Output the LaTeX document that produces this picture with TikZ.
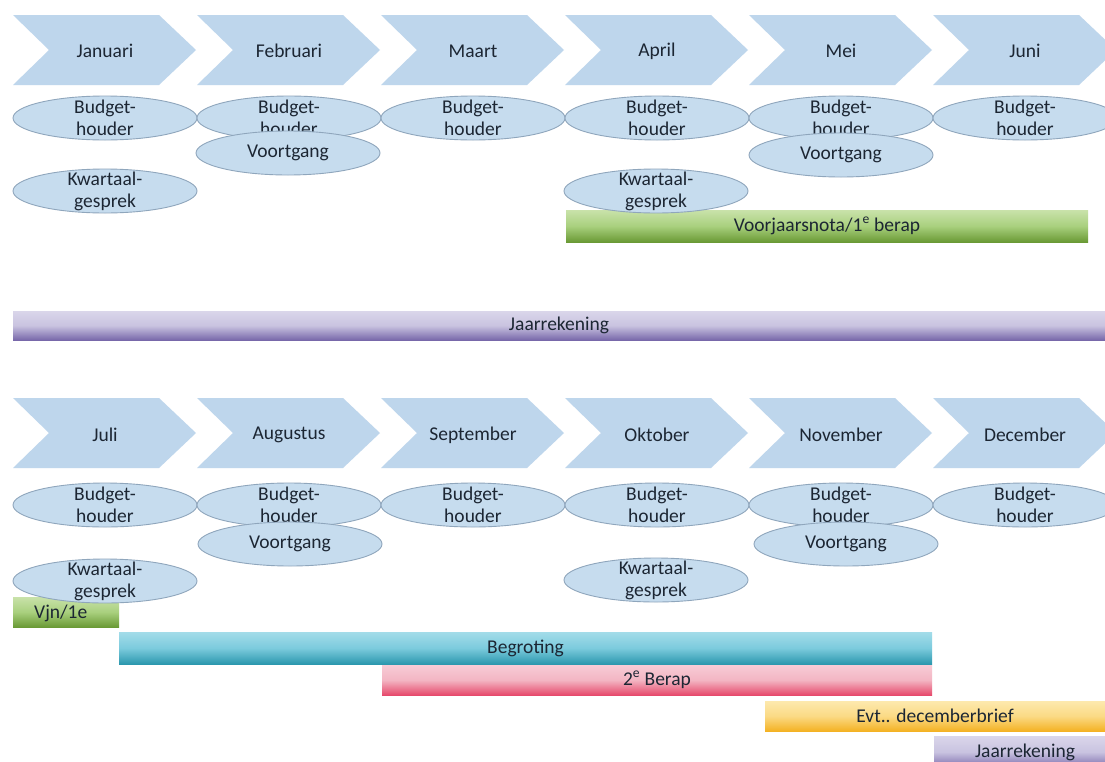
\documentclass[tikz,border=0pt]{standalone}
\usepackage{fontspec}
\setmainfont{Carlito}
\begin{document}
\begin{tikzpicture}[x=1pt,y=-1pt,
  chev/.style={fill=chevfill,draw=none},
  lbl/.style={font=\fontsize{19.5}{22}\selectfont,text=txtcol,inner sep=0pt,align=center},
  oval/.style={ellipse,fill=ovalfill,draw=ovaldraw,line width=0.9pt,minimum width=184pt,minimum height=44pt,inner sep=0pt},
  bar/.style={rectangle,draw=none,inner sep=0pt,font=\fontsize{19.5}{22}\selectfont,text=txtcol},
  green/.style={bar,top color=grTop,bottom color=grBot,middle color=grMid},
  purple/.style={bar,top color=puTop,bottom color=puBot,middle color=puMid},
  cyanbar/.style={bar,top color=cyTop,bottom color=cyBot,middle color=cyMid},
  pinkbar/.style={bar,top color=piTop,bottom color=piBot,middle color=piMid},
  yellowbar/.style={bar,top color=yeTop,bottom color=yeBot,middle color=yeMid},
]
\definecolor{chevfill}{HTML}{BED6EC}
\definecolor{ovalfill}{HTML}{C6DCEE}
\definecolor{ovaldraw}{HTML}{8FA6BC}
\definecolor{txtcol}{HTML}{1C2633}
\definecolor{grTop}{HTML}{C9E2AA}\definecolor{grMid}{HTML}{A9D07E}\definecolor{grBot}{HTML}{6A9A35}
\definecolor{puTop}{HTML}{DAD6EA}\definecolor{puMid}{HTML}{C9C3E0}\definecolor{puBot}{HTML}{7868AA}
\definecolor{cyTop}{HTML}{A3DCE9}\definecolor{cyMid}{HTML}{7CCBDD}\definecolor{cyBot}{HTML}{2C98AE}
\definecolor{piTop}{HTML}{F7CCD6}\definecolor{piMid}{HTML}{F3B5C3}\definecolor{piBot}{HTML}{E64A6C}
\definecolor{yeTop}{HTML}{FDE9AE}\definecolor{yeMid}{HTML}{FBDA85}\definecolor{yeBot}{HTML}{F4B224}
\usetikzlibrary{shapes.geometric}
\clip (0,0) rectangle (1105,761);
\fill[white] (0,0) rectangle (1105,761);
% chevrons
\foreach \i/\m in {0/Januari,1/Februari,2/Maart,3/April,4/Mei,5/Juni}{
  \pgfmathsetmacro{\xo}{13+184*\i}
  \fill[chev] (\xo,15) -- (\xo+146,15) -- (\xo+183,50) -- (\xo+146,85) -- (\xo,85) -- (\xo+36,50) -- cycle;
  \node[lbl] (top\i) at (\xo+92,51) {\m};
}
\foreach \i/\m in {0/Juli,1/Augustus,2/September,3/Oktober,4/November,5/December}{
  \pgfmathsetmacro{\xo}{13+184*\i}
  \fill[chev] (\xo,398) -- (\xo+146,398) -- (\xo+183,433) -- (\xo+146,468) -- (\xo,468) -- (\xo+36,433) -- cycle;
  \node[lbl] (bot\i) at (\xo+92,435) {\m};
}
% bars under the ovals
\node[green,minimum width=522pt,minimum height=32pt] (vjn) at (827,226) {Voorjaarsnota/1\textsuperscript{e} berap};
\node[green,minimum width=106pt,minimum height=30pt] (vjn2) at (66,612) {};
% budgethouder ovals
\foreach \i in {0,...,5}{
  \pgfmathsetmacro{\xc}{105+184*\i}
  \node[oval] (bh\i) at (\xc,118) {};
  \node[lbl] at (bh\i) {Budget-\\houder};
  \node[oval] (bhb\i) at (\xc,505) {};
  \node[lbl] at (bhb\i) {Budget-\\houder};
}
% voortgang
\node[oval] (vg1) at (288,153) {}; \node[lbl] at (vg1) {Voortgang};
\node[oval] (vg4) at (841,155) {}; \node[lbl] at (vg4) {Voortgang};
\node[oval] (vgb1) at (290,544) {}; \node[lbl] at (vgb1) {Voortgang};
\node[oval] (vgb4) at (846,544) {}; \node[lbl] at (vgb4) {Voortgang};
% kwartaal
\node[oval] (kg0) at (105,191) {}; \node[lbl] at (kg0) {Kwartaal-\\gesprek};
\node[oval] (kg3) at (656,191) {}; \node[lbl] at (kg3) {Kwartaal-\\gesprek};
\node[oval] (kgb0) at (105,581) {}; \node[lbl] at (kgb0) {Kwartaal-\\gesprek};
\node[oval] (kgb3) at (656,580) {}; \node[lbl] at (kgb3) {Kwartaal-\\gesprek};
% other bars
\node[lbl,anchor=west] (vjn2t) at (34,613) {Vjn/1e};
\node[purple,minimum width=1092pt,minimum height=29pt] (jr) at (559,325.5) {Jaarrekening};
\node[cyanbar,minimum width=813pt,minimum height=32pt] (beg) at (525.5,648) {Begroting};
\node[pinkbar,minimum width=550pt,minimum height=30pt] (berap) at (657,680) {2\textsuperscript{e} Berap};
\node[yellowbar,minimum width=340pt,minimum height=30pt] (dec) at (935,716) {Evt.. decemberbrief};
\node[purple,minimum width=171pt,minimum height=32pt] (jr2) at (1019.5,752) {};
\node[lbl] (jr2t) at (1025,752) {Jaarrekening};
\end{tikzpicture}
\end{document}
